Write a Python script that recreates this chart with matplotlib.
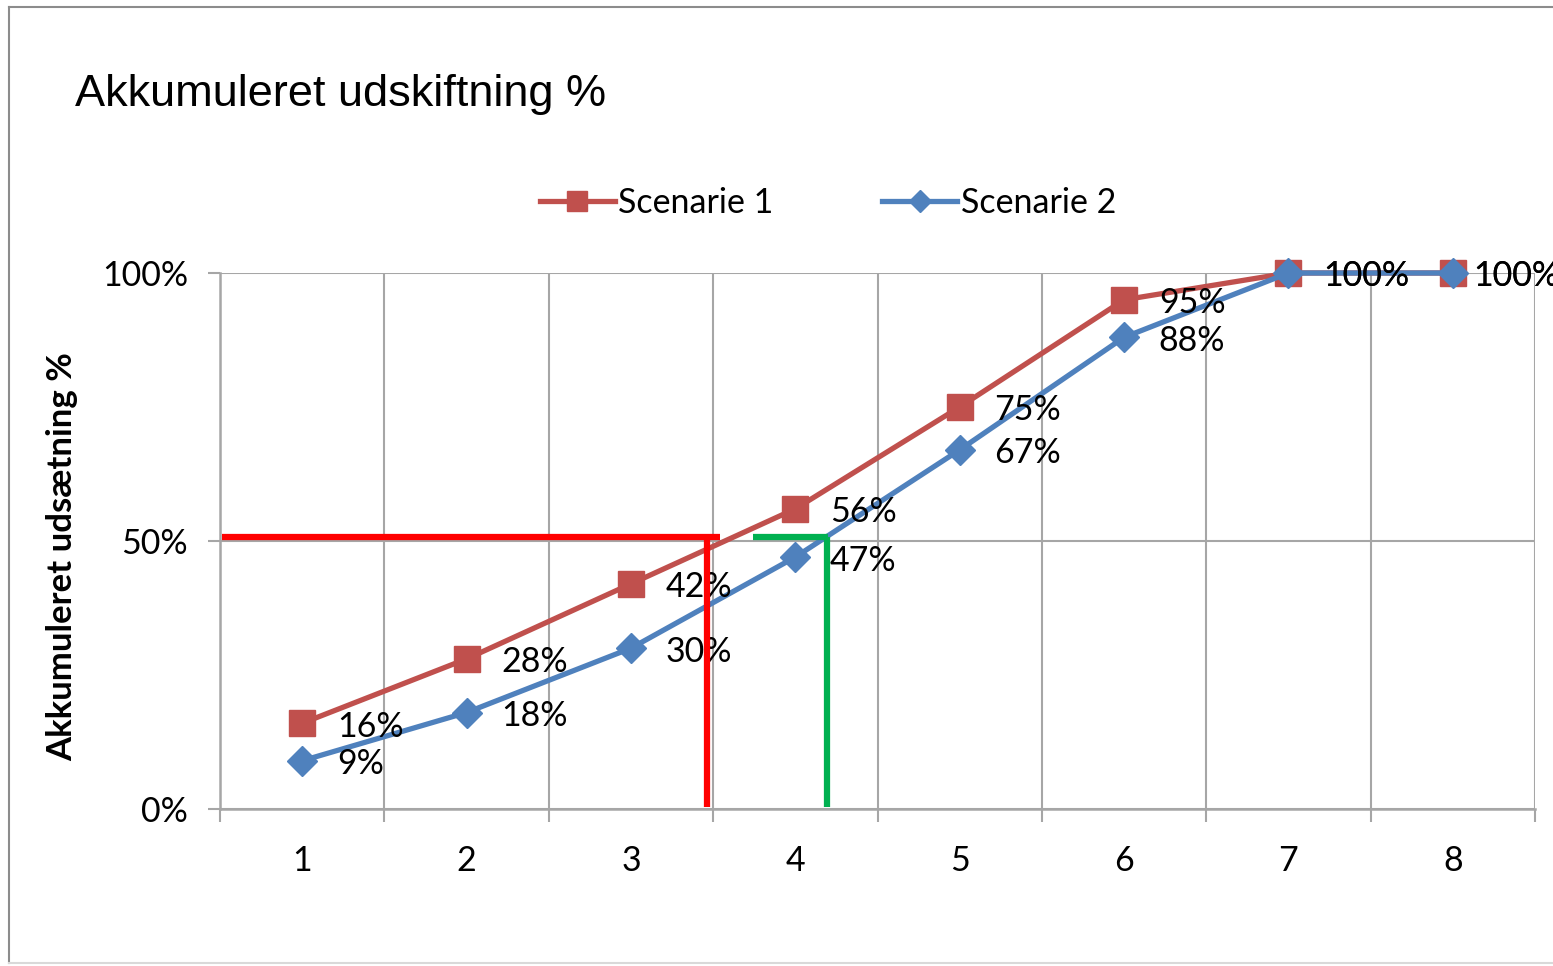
import matplotlib
matplotlib.use("Agg")
import matplotlib.pyplot as plt
from matplotlib.lines import Line2D

# Data
categories = [1, 2, 3, 4, 5, 6, 7, 8]
scenarie1 = [16, 28, 42, 56, 75, 95, 100, 100]
scenarie2 = [9, 18, 30, 47, 67, 88, 100, 100]
series_names = ["Scenarie 1", "Scenarie 2"]
ytick_vals = [0, 50, 100]
ytick_labels = ["0%", "50%", "100%"]
title = "Akkumuleret udskiftning %"
ylabel = "Akkumuleret udsætning %"
# Overlay reference lines (data coords)
red_marker = {"x": 3.46, "y": 50.7, "x0": 0.51, "x1": 3.54}
green_marker = {"x": 4.19, "y": 50.7, "x0": 3.74, "x1": 4.20}

W, H = 1553, 966
fig = plt.figure(figsize=(W / 100, H / 100), dpi=100)
fig.patch.set_facecolor("white")

RED = "#C0504D"
BLUE = "#4F81BD"
GRID = "#A6A6A6"
FONT = "Lato"
LBL = 24.5

ax = fig.add_axes([220 / W, 1 - 809 / H, (1535 - 220) / W, (809 - 273) / H])
ax.set_xlim(0.5, 8.5)
ax.set_ylim(0, 100)

ax.plot(categories, scenarie1, color=RED, lw=3.8, marker="s", ms=19,
        mfc=RED, mec=RED, zorder=3, label=series_names[0], clip_on=False)
ax.plot(categories, scenarie2, color=BLUE, lw=3.8, marker="D", ms=15,
        mfc=BLUE, mec=BLUE, zorder=4, label=series_names[1], clip_on=False)

for i, (x, v) in enumerate(zip(categories, scenarie1)):
    dx = 15 if i == len(categories) - 1 else 25
    ax.annotate(f"{v}%", (x, v), xytext=(dx, -2.5), textcoords="offset points",
                ha="left", va="center", fontsize=LBL, family=FONT, color="black", zorder=5)
for i, (x, v) in enumerate(zip(categories, scenarie2)):
    dx = 15 if i == len(categories) - 1 else 25
    ax.annotate(f"{v}%", (x, v), xytext=(dx, -2.5), textcoords="offset points",
                ha="left", va="center", fontsize=LBL, family=FONT, color="black", zorder=5)

# Overlay lines
ax.plot([red_marker["x0"], red_marker["x1"]], [red_marker["y"]] * 2, color="#FF0000", lw=4.5,
        solid_capstyle="butt", zorder=6)
ax.plot([red_marker["x"]] * 2, [0.3, red_marker["y"]], color="#FF0000", lw=4.5,
        solid_capstyle="butt", zorder=6)
ax.plot([green_marker["x0"], green_marker["x1"]], [green_marker["y"]] * 2, color="#00B050", lw=4.5,
        solid_capstyle="butt", zorder=6)
ax.plot([green_marker["x"]] * 2, [0.3, green_marker["y"]], color="#00B050", lw=4.5,
        solid_capstyle="butt", zorder=6)

# Axes styling
ax.set_xticks(categories)
ax.set_xticklabels([str(c) for c in categories], fontsize=LBL, family=FONT)
ax.set_xticks([c - 0.5 for c in categories] + [8.5], minor=True)
ax.tick_params(axis="x", which="major", length=0, pad=26)
ax.tick_params(axis="x", which="minor", length=9, width=1.5, color=GRID)
ax.set_yticks(ytick_vals)
ax.set_yticklabels(ytick_labels, fontsize=LBL, family=FONT)
ax.tick_params(axis="y", which="major", length=9, width=1.5, color=GRID, pad=14)
ax.grid(True, axis="y", which="major", color=GRID, lw=1.5)
ax.grid(True, axis="x", which="minor", color=GRID, lw=1.5)
ax.grid(False, axis="x", which="major")
for s in ["top", "right"]:
    ax.spines[s].set_visible(False)
for s in ["left", "bottom"]:
    ax.spines[s].set_color(GRID)
    ax.spines[s].set_linewidth(1.8)
ax.set_axisbelow(True)

fig.text(62 / W, 1 - 557 / H, ylabel, rotation=90, ha="center", va="center",
         fontsize=25, family=FONT, fontweight="bold")
fig.text(75 / W, 1 - 106 / H, title, ha="left", va="baseline",
         fontsize=32.5, family="Liberation Sans")

handles = [Line2D([0], [0], color=RED, lw=3.8, marker="s", ms=15),
           Line2D([0], [0], color=BLUE, lw=3.8, marker="D", ms=11)]
fig.legend(handles, series_names, loc="center", bbox_to_anchor=(828 / W, 1 - 203 / H),
           ncol=2, frameon=False, prop={"family": FONT, "size": LBL},
           handlelength=2.2, handletextpad=0.1, columnspacing=3.2)

# Outer frame
fig.add_artist(Line2D([9 / W, 9 / W], [1 - 963 / H, 1 - 7 / H], transform=fig.transFigure,
                      color="#8C8C8C", lw=1.5))
fig.add_artist(Line2D([9 / W, 1.0], [1 - 7 / H, 1 - 7 / H], transform=fig.transFigure,
                      color="#8C8C8C", lw=1.5))
fig.add_artist(Line2D([9 / W, 1.0], [1 - 963 / H, 1 - 963 / H], transform=fig.transFigure,
                      color="#D9D9D9", lw=1.5))

fig.savefig("out.png", dpi=100)
